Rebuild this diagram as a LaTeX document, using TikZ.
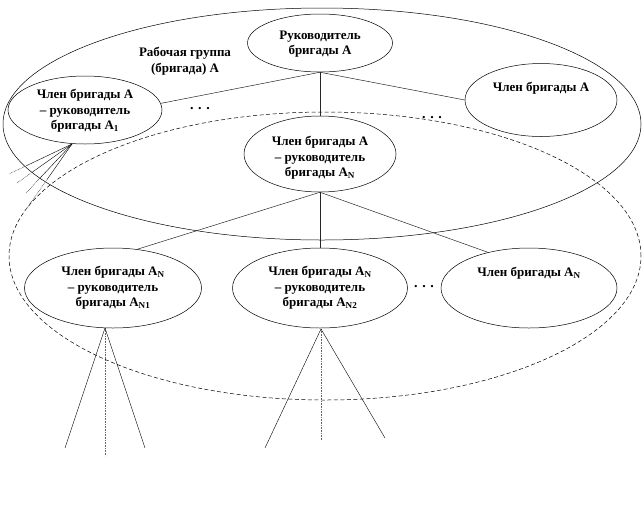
\documentclass[tikz,border=0pt]{standalone}
\usepackage{fontspec}
\setmainfont{Liberation Serif}
\usetikzlibrary{shapes.geometric,calc}
\begin{document}
\begin{tikzpicture}[x=1pt,y=-1pt,
  ell/.style={ellipse,draw,inner sep=0pt,line width=0.5pt},
  txt/.style={align=center,font=\bfseries\fontsize{13}{15.5}\selectfont,inner sep=0pt},
  conn/.style={line width=0.5pt,black!85},
  grp/.style={line width=0.5pt},
  grpd/.style={line width=0.5pt,dash pattern=on 4pt off 2.5pt},
  dotsn/.style={font=\bfseries\fontsize{14}{14}\selectfont,inner sep=0pt},
  branch/.style={line width=0.4pt},
  branchd/.style={line width=0.5pt,densely dotted},
  vert/.style={line width=1pt,black!60,dash pattern=on 1pt off 0.6pt}]
\useasboundingbox (0,0) rectangle (642,504);
% groups
\draw[grp] (322,124) ellipse [x radius=319pt, y radius=116pt];
\draw[grpd] (325,256) ellipse [x radius=316pt, y radius=144pt];
% nodes
\node[ell,minimum width=145pt,minimum height=58pt] (R) at (320,43) {};
\node[txt] (Rt) at (320,44) {Руководитель\\бригады А};
\node[ell,minimum width=154pt,minimum height=68pt] (A1) at (85,110) {};
\node[txt] (A1t) at (85,111) {Член бригады А\\– руководитель\\бригады А\textsubscript{1}};
\node[ell,minimum width=152pt,minimum height=73pt] (RA) at (541,100) {};
\node[txt] (RAt) at (541,88) {Член бригады А};
\node[ell,minimum width=152pt,minimum height=76pt] (AN) at (320,154) {};
\node[txt] (ANt) at (320,158) {Член бригады А\\– руководитель\\бригады А\textsubscript{N}};
\node[ell,minimum width=177pt,minimum height=80pt] (AN1) at (113,288) {};
\node[txt] (AN1t) at (113,288) {Член бригады А\textsubscript{N}\\– руководитель\\бригады А\textsubscript{N1}};
\node[ell,minimum width=175pt,minimum height=80pt] (AN2) at (320,288) {};
\node[txt] (AN2t) at (320,288) {Член бригады А\textsubscript{N}\\– руководитель\\бригады А\textsubscript{N2}};
\node[ell,minimum width=176pt,minimum height=80pt] (ANR) at (529,288) {};
\node[txt] (ANRt) at (529,273) {Член бригады А\textsubscript{N}};
% labels
\node[txt] (grA) at (185,61) {Рабочая группа\\(бригада) А};
\node[dotsn] (d1) at (200,109) {. . .};
\node[dotsn] (d2) at (432,118) {. . .};
\node[dotsn] (d3) at (424,287) {. . .};
% connectors
\draw[conn] (R.south) -- (A1.5);
\draw[conn] (R.south) -- (RA.west);
\draw[conn] (R.south) -- (AN.north);
\draw[conn] (AN.south) -- (AN1.58);
\draw[conn] (AN.south) -- (AN2.north);
\draw[conn] (AN.south) -- (ANR.139);
% branches from A1
\coordinate (a1b) at (72,144);
\coordinate (e1) at (9,174);
\coordinate (e2) at (17,183);
\coordinate (e3) at (26,193);
\coordinate (e4) at (27,208);
\draw[branch] (a1b) -- ($(a1b)!0.72!(e1)$);
\draw[branchd] ($(a1b)!0.72!(e1)$) -- (e1);
\draw[branch] (a1b) -- ($(a1b)!0.72!(e2)$);
\draw[branchd] ($(a1b)!0.72!(e2)$) -- (e2);
\draw[branch] (a1b) -- ($(a1b)!0.7!(e3)$);
\draw[branchd] ($(a1b)!0.7!(e3)$) -- (e3);
\draw[branch] (a1b) -- ($(a1b)!0.55!(e4)$);
\draw[branchd] ($(a1b)!0.55!(e4)$) -- (e4);
% branches from AN1
\coordinate (n1b) at (105,328);
\coordinate (n1l) at (65,448);
\coordinate (n1m) at (105,456);
\coordinate (n1r) at (145,448);
\draw[branch] (n1b) -- (n1l);
\draw[vert] (n1b) -- (n1m);
\draw[branch] (n1b) -- (n1r);
% branches from AN2
\coordinate (n2b) at (321,329);
\coordinate (n2l) at (265,448);
\coordinate (n2m) at (321,440);
\coordinate (n2r) at (385,438);
\draw[branch] (n2b) -- (n2l);
\draw[vert] (n2b) -- (n2m);
\draw[branch] (n2b) -- (n2r);
\end{tikzpicture}
\end{document}
